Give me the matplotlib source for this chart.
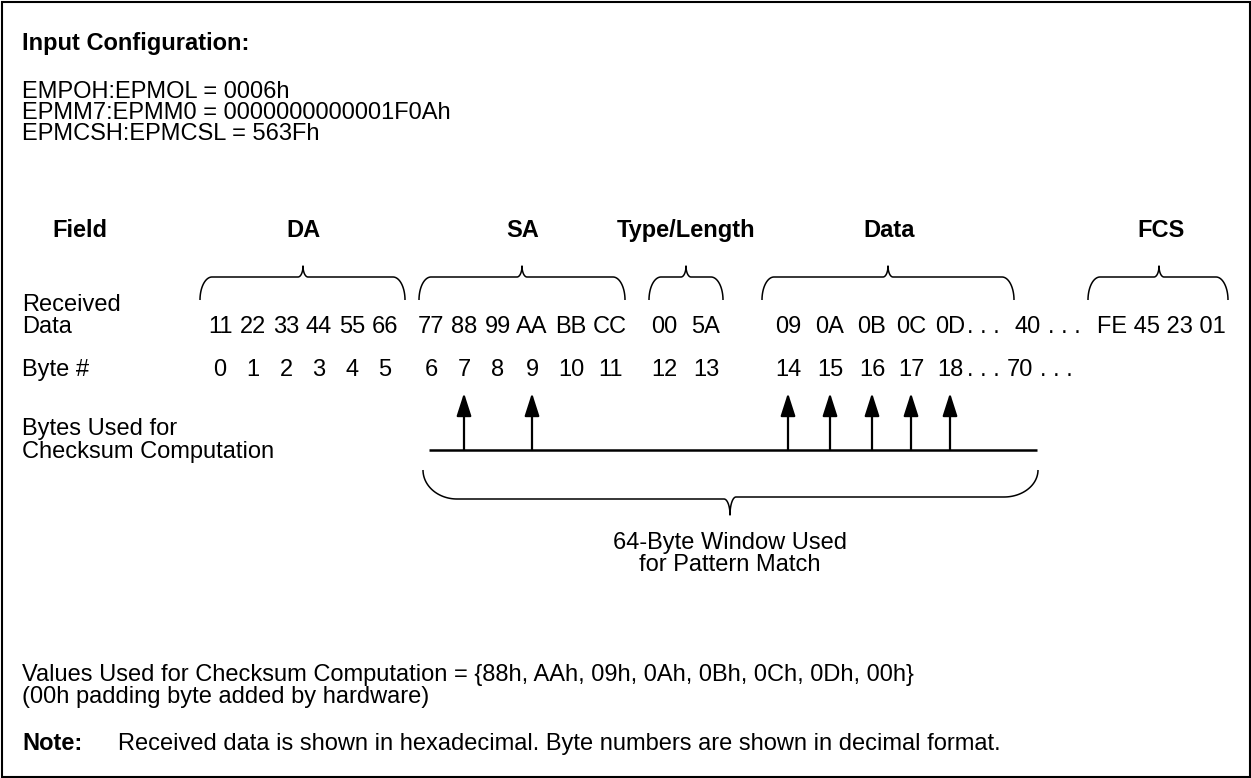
import numpy as np
import matplotlib
matplotlib.use("Agg")
import matplotlib.pyplot as plt
from matplotlib.patches import Rectangle

# ---- data ----
config_lines = ["EMPOH:EPMOL = 0006h",
                "EPMM7:EPMM0 = 0000000000001F0Ah",
                "EPMCSH:EPMCSL = 563Fh"]
fields = ["DA", "SA", "Type/Length", "Data", "FCS"]
data_hex = ["11", "22", "33", "44", "55", "66",
            "77", "88", "99", "AA", "BB", "CC",
            "00", "5A",
            "09", "0A", "0B", "0C", "0D"]
byte_nums = [0, 1, 2, 3, 4, 5, 6, 7, 8, 9, 10, 11, 12, 13, 14, 15, 16, 17, 18]
far_hex, far_num = "40", 70
fcs_hex = ["FE", "45", "23", "01"]
checksum_bytes = [7, 9, 14, 15, 16, 17, 18]
checksum_values = ["88h", "AAh", "09h", "0Ah", "0Bh", "0Ch", "0Dh", "00h"]

# ---- layout (pixel coordinates, y down) ----
col_x = [220, 253, 286, 319, 352, 385,
         431, 464, 498, 532, 571, 610,
         664, 706,
         788, 830, 872, 911, 950]
far_x = 1028
fcs_str_x = 1097
field_x = [303, 523, 686, 889, 1161]
brace_spans = [(200, 405, 303), (419, 625, 522), (649, 723, 686),
               (762, 1014, 888), (1088, 1228, 1159)]
Y_DATA, Y_BYTE = 333, 376          # baselines
Y_LINE, Y_TIP = 450, 393

FONT = "Liberation Sans"
FS = 17

fig = plt.figure(figsize=(12.51, 7.78), dpi=100)
ax = fig.add_axes([0, 0, 1, 1])
ax.set_xlim(0, 1251)
ax.set_ylim(778, 0)
ax.axis("off")

ax.add_patch(Rectangle((1.5, 1.5), 1248, 775, fill=False, lw=1.5, ec="black"))


def txt(x, y, s, ha="left", bold=False):
    ax.text(x, y, s, ha=ha, va="baseline", fontsize=FS, family=FONT,
            fontweight="bold" if bold else "normal")


def brace(x0, x1, xt, y_end, y_mid_l, y_mid_r, y_tip, rx, tw=6, lw=1.1):
    t = np.linspace(0, np.pi / 2, 30)
    ry_l = y_end - y_mid_l
    ry_r = y_end - y_mid_r
    xs = list(x0 + rx - rx * np.cos(t))
    ys = list(y_end - ry_l * np.sin(t))
    xs += list(xt - tw + tw * np.sin(t))
    ys += list(y_tip + (y_mid_l - y_tip) * np.cos(t))
    xs += list(xt + tw - tw * np.cos(t))
    ys += list(y_tip + (y_mid_r - y_tip) * np.sin(t))
    xs += list(x1 - rx + rx * np.sin(t))
    ys += list(y_mid_r + ry_r * (1 - np.cos(t)))
    ax.plot(xs, ys, color="black", lw=lw, solid_capstyle="butt")


# input configuration
txt(22, 50, "Input Configuration:", bold=True)
for i, line in enumerate(config_lines):
    txt(22, 98 + 21 * i, line)

# field header and braces
txt(80, 237, "Field", ha="center", bold=True)
for fx, f in zip(field_x, fields):
    txt(fx, 237, f, ha="center", bold=True)
for x0, x1, xt in brace_spans:
    brace(x0, x1, xt, 300, 277, 277, 266, rx=12, tw=5)

# received data / byte numbers
txt(22, Y_DATA - 22, "Received")
txt(22, Y_DATA, "Data")
txt(22, Y_BYTE, "Byte #")
for x, h, n in zip(col_x, data_hex, byte_nums):
    txt(x, Y_DATA, h, ha="center")
    txt(x, Y_BYTE, str(n), ha="center")

txt(col_x[-1] + 17, Y_DATA, ". . .")
txt(far_x, Y_DATA, far_hex, ha="center")
txt(far_x + 20, Y_DATA, ". . .")
txt(fcs_str_x, Y_DATA, " ".join(fcs_hex))
txt(col_x[-1] + 17, Y_BYTE, ". . .")
txt(far_x - 8, Y_BYTE, str(far_num), ha="center")
txt(far_x + 12, Y_BYTE, ". . .")

# bytes used for checksum
txt(22, 435, "Bytes Used for")
txt(22, 458, "Checksum Computation")
ax.plot([429, 1037], [Y_LINE, Y_LINE], color="black", lw=1.8, solid_capstyle="butt")
for b in checksum_bytes:
    x = col_x[byte_nums.index(b)]
    ax.annotate("", xy=(x, Y_TIP), xytext=(x, Y_LINE),
                arrowprops=dict(arrowstyle="-|>,head_length=1.4,head_width=0.45",
                                mutation_scale=10, lw=1.6, color="black",
                                shrinkA=0, shrinkB=0))

brace(423, 1038, 730, 470, 499, 497, 515, rx=34, tw=6, lw=1.1)
txt(730, 549, "64-Byte Window Used", ha="center")
txt(730, 571, "for Pattern Match", ha="center")

# footer
txt(22, 681, "Values Used for Checksum Computation = {" + ", ".join(checksum_values) + "}")
txt(22, 703, "(00h padding byte added by hardware)")
txt(22, 750, "Note:", bold=True)
txt(118, 750, "Received data is shown in hexadecimal. Byte numbers are shown in decimal format.")

fig.savefig("out.png", dpi=100)
